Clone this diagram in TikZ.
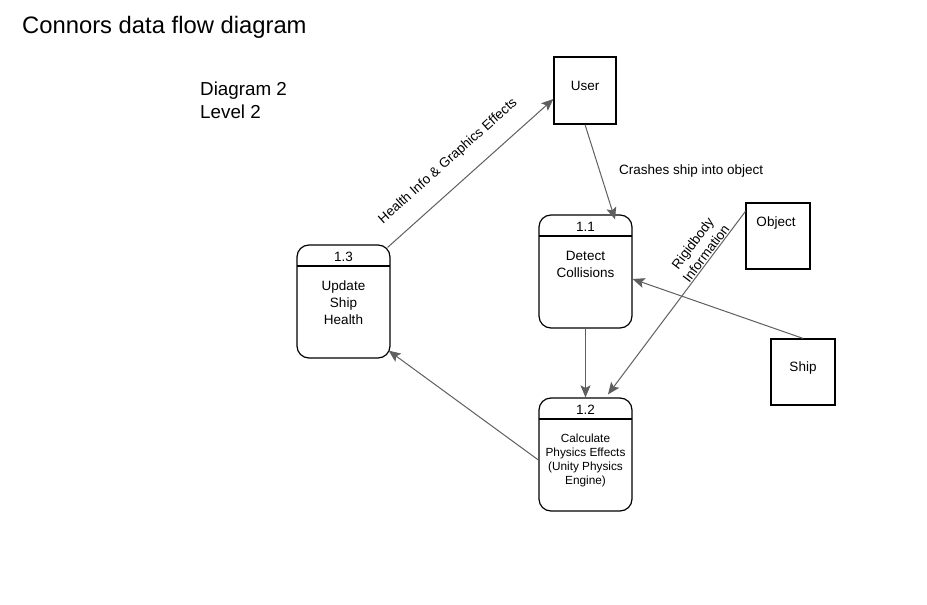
\documentclass[tikz,border=0pt]{standalone}
\usepackage{fontspec}
\setmainfont{Liberation Sans}
\usetikzlibrary{arrows.meta,positioning}
\definecolor{flowgray}{RGB}{95,95,95}

\begin{document}
\begin{tikzpicture}[x=1pt, y=-1pt, >={Stealth[length=12pt,width=10pt,inset=2.5pt]},
  proc/.style={draw, rounded corners=12pt, line width=1.2pt, minimum width=93pt, minimum height=113pt,
    path picture={\draw[line width=1.2pt] ([yshift=-21pt]path picture bounding box.north west)
      -- ([yshift=-21pt]path picture bounding box.north east);}},
  ent/.style={draw, line width=1.2pt, minimum width=64pt, minimum height=66pt},
  txt/.style={inner sep=0pt, align=center, font=\fontsize{13.5}{16.8}\selectfont},
  sml/.style={inner sep=0pt, align=center, font=\fontsize{11.8}{14.3}\selectfont},
  flow/.style={->, draw=flowgray, line width=1pt}]
  \useasboundingbox[fill=white] (0,0) rectangle (927,605);
  \node[anchor=west, inner sep=0pt, font=\fontsize{23.8}{27}\selectfont] (title) at (22,27) {Connors data flow diagram};
  \node[anchor=west, inner sep=0pt, align=left, font=\fontsize{18.8}{23}\selectfont] (level) at (200,100) {Diagram 2\\Level 2};

  \node[ent, minimum width=62pt, minimum height=67pt] (user) at (585,90.5) {};
  \node[txt] (usertxt) at (585,86) {User};
  \node[ent] (obj) at (778,236) {};
  \node[txt] (objtxt) at (776,223) {Object};
  \node[ent] (ship) at (803,372) {};
  \node[txt] (shiptxt) at (803,368) {Ship};

  \node[proc] (p11) at (585.5,271.5) {};
  \node[txt] (p11num) at ([yshift=-12pt]p11.north) {1.1};
  \node[txt] (p11txt) at ([yshift=-50pt]p11.north) {Detect\\Collisions};
  \node[proc] (p12) at (585.5,454.5) {};
  \node[txt] (p12num) at ([yshift=-12pt]p12.north) {1.2};
  \node[sml] (p12txt) at ([yshift=-63pt]p12.north) {Calculate\\Physics Effects\\(Unity Physics\\Engine)};
  \node[proc] (p13) at (343.5,301.5) {};
  \node[txt] (p13num) at ([yshift=-12pt]p13.north) {1.3};
  \node[txt] (p13txt) at ([yshift=-58pt]p13.north) {Update\\Ship\\Health};

  \draw[flow] (user.south) -- node[txt, pos=0.49, right=19pt] {Crashes ship into object} ([xshift=29.5pt,yshift=-5pt]p11.north);
  \draw[flow] (p11.south) -- (p12.north);
  \draw[flow] ([yshift=-9pt]obj.north west) -- node[txt, pos=0.25, rotate=53, anchor=south, inner sep=1pt] {Rigidbody\\Information} ([xshift=22.5pt,yshift=3pt]p12.north);
  \draw[flow] (ship.north) -- ([yshift=-7.5pt]p11.east);
  \draw[flow] ([yshift=-5.5pt]p12.west) -- ([xshift=-2pt,yshift=8pt]p13.south east);
  \draw[flow] ([xshift=-3pt,yshift=-3pt]p13.north east) -- node[txt, pos=0.46, sloped, above=17pt] {Health Info \& Graphics Effects} ([yshift=-8.5pt]user.west);
\end{tikzpicture}
\end{document}
